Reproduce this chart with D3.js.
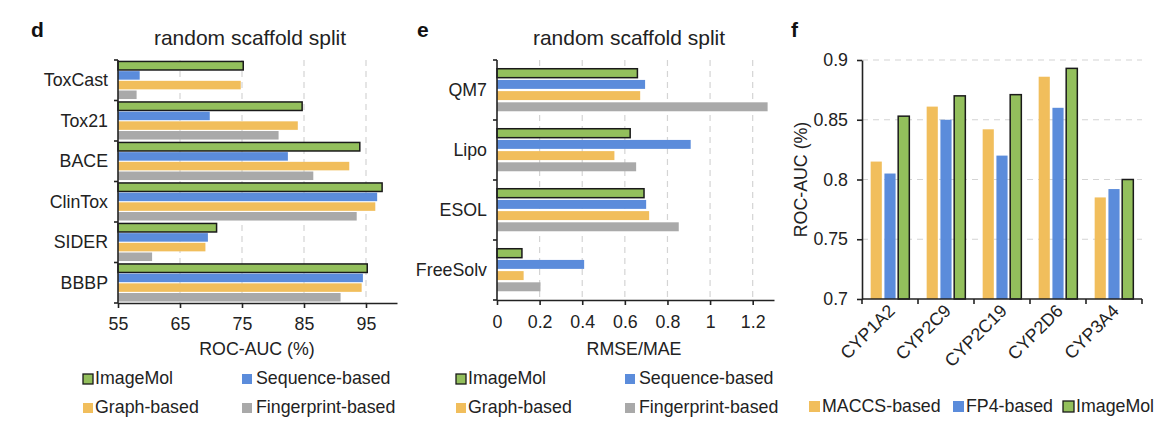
<!DOCTYPE html>
<html><head><meta charset="utf-8">
<script src="https://cdn.jsdelivr.net/npm/d3@7"></script>
<style>
html,body{margin:0;padding:0;background:#fff;}
svg{display:block;font-family:"Liberation Sans",Arial,sans-serif;}
</style></head>
<body>
<svg id="c" width="1176" height="428"></svg>
<script>
// ---------- data ----------
const seriesD = ["ImageMol", "Sequence-based", "Graph-based", "Fingerprint-based"];
const catsD = ["ToxCast", "Tox21", "BACE", "ClinTox", "SIDER", "BBBP"];
const imagemolD = [75.2, 84.7, 94.0, 97.6, 70.9, 95.2];
const sequenceD = [58.5, 69.8, 82.4, 96.8, 69.5, 94.5];
const graphD = [74.8, 84.0, 92.3, 96.5, 69.1, 94.3];
const fingerprintD = [58.0, 80.9, 86.5, 93.5, 60.5, 90.9];
const ticksD = [55, 65, 75, 85, 95];

const catsE = ["QM7", "Lipo", "ESOL", "FreeSolv"];
const imagemolE = [0.659, 0.625, 0.690, 0.117];
const sequenceE = [0.695, 0.909, 0.700, 0.409];
const graphE = [0.672, 0.551, 0.714, 0.125];
const fingerprintE = [1.270, 0.653, 0.853, 0.204];
const ticksE = [0, 0.2, 0.4, 0.6, 0.8, 1, 1.2];

const seriesF = ["MACCS-based", "FP4-based", "ImageMol"];
const catsF = ["CYP1A2", "CYP2C9", "CYP2C19", "CYP2D6", "CYP3A4"];
const maccsF = [0.815, 0.861, 0.842, 0.886, 0.785];
const fp4F = [0.805, 0.850, 0.820, 0.860, 0.792];
const imagemolF = [0.853, 0.870, 0.871, 0.893, 0.800];
const ticksF = [0.7, 0.75, 0.8, 0.85, 0.9];

// ---------- styles ----------
const COL = {"ImageMol": "#93BF5C", "Sequence-based": "#5B8CDB", "Graph-based": "#F1BE5C",
  "Fingerprint-based": "#A9A9A9", "MACCS-based": "#F1BE5C", "FP4-based": "#5B8CDB"};
const AX = "#222";
const GRID = "#d4d4d4";
const FS = 17.8;
const FF = "Liberation Sans, Arial, sans-serif";

const svg = d3.select("#c");

function hbarPanel(opt) {
  const g = svg.append("g");
  const x = d3.scaleLinear().domain(opt.domain).range([opt.x0, opt.x1]);
  const y = d3.scaleBand().domain(opt.cats).range([opt.y0, opt.y1]).padding(0);
  const yi = d3.scaleBand().domain(seriesD).range([0, y.bandwidth()])
    .paddingInner(opt.pi).paddingOuter(opt.po);
  // grid
  g.selectAll(".grid").data(opt.ticks.slice(1)).join("line")
    .attr("x1", d => x(d)).attr("x2", d => x(d))
    .attr("y1", opt.y0).attr("y2", opt.y1)
    .attr("stroke", GRID).attr("stroke-width", 1.2).attr("stroke-dasharray", "6,5");
  // bars
  const rows = [];
  opt.cats.forEach((c, i) => {
    opt.vals.forEach((arr, j) => rows.push({c, s: seriesD[j], v: arr[i]}));
  });
  g.selectAll(".bar").data(rows).join("rect")
    .attr("x", x(opt.domain[0]))
    .attr("y", d => y(d.c) + yi(d.s))
    .attr("width", d => x(d.v) - x(opt.domain[0]))
    .attr("height", yi.bandwidth())
    .attr("fill", d => COL[d.s])
    .attr("stroke", d => d.s === "ImageMol" ? "#1a1a1a" : "none")
    .attr("stroke-width", 1.5);
  // y axis
  const ya = g.append("g").attr("transform", `translate(${opt.x0},0)`);
  ya.append("line").attr("x1", 0).attr("x2", 0).attr("y1", opt.y0).attr("y2", opt.y1)
    .attr("stroke", AX).attr("stroke-width", 1.6);
  const bounds = opt.cats.map(c => y(c)).concat([opt.y1]);
  ya.selectAll(".tk").data(bounds).join("line")
    .attr("x1", -4).attr("x2", 0).attr("y1", d => d).attr("y2", d => d)
    .attr("stroke", AX).attr("stroke-width", 1.6);
  g.selectAll(".cl").data(opt.cats).join("text")
    .attr("x", opt.labelX).attr("y", d => y(d) + y.bandwidth() / 2)
    .attr("dy", "0.35em").attr("text-anchor", "end")
    .attr("font-size", FS).attr("fill", "#222").text(d => d);
  // x axis
  const xa = d3.axisBottom(x).tickValues(opt.ticks).tickSize(5).tickSizeOuter(0)
    .tickFormat(d => String(d));
  const xg = g.append("g").attr("transform", `translate(0,${opt.y1})`).call(xa);
  xg.select(".domain").attr("stroke", AX).attr("stroke-width", 1.6);
  xg.selectAll(".tick line").attr("stroke", AX).attr("stroke-width", 1.6);
  xg.selectAll(".tick text").attr("font-size", FS).attr("fill", "#222")
    .attr("font-family", FF).attr("dy", null).attr("y", opt.tickY);
  g.append("text").attr("x", opt.axTitleX).attr("y", opt.axTitleY)
    .attr("text-anchor", "middle").attr("font-size", FS).attr("fill", "#222").text(opt.axTitle);
  // title & panel letter
  g.append("text").attr("x", opt.titleX).attr("y", 45).attr("text-anchor", "middle")
    .attr("font-size", 21).attr("fill", "#222").text("random scaffold split");
  g.append("text").attr("x", opt.letterX).attr("y", 37).attr("font-size", 21)
    .attr("font-weight", "bold").attr("fill", "#111").text(opt.letter);
  // legend
  const lg = g.append("g");
  seriesD.forEach((s, i) => {
    const col = i % 2, row = Math.floor(i / 2);
    const lx = opt.legX[col], ly = [384, 413][row];
    lg.append("rect").attr("x", lx).attr("y", ly - 10).attr("width", 10).attr("height", 10)
      .attr("fill", COL[s]).attr("stroke", s === "ImageMol" ? "#1a1a1a" : "none").attr("stroke-width", 1.3);
    lg.append("text").attr("x", lx + (col === 0 ? 12 : 14)).attr("y", ly).attr("font-size", FS)
      .attr("fill", "#222").text(s);
  });
}

hbarPanel({
  cats: catsD, vals: [imagemolD, sequenceD, graphD, fingerprintD],
  domain: [55, 100], x0: 118, x1: 397, y0: 60, y1: 303, pi: 0.12, po: 0.15,
  ticks: ticksD, labelX: 108, tickY: 27, axTitle: "ROC-AUC (%)", axTitleX: 257, axTitleY: 355,
  titleX: 250, letter: "d", letterX: 31, legX: [83, 242]
});
hbarPanel({
  cats: catsE, vals: [imagemolE, sequenceE, graphE, fingerprintE],
  domain: [0, 1.3], x0: 497, x1: 774, y0: 60, y1: 300, pi: 0.2, po: 0.78,
  ticks: ticksE, labelX: 487, tickY: 28, axTitle: "RMSE/MAE", axTitleX: 634, axTitleY: 355,
  titleX: 629, letter: "e", letterX: 417, legX: [456, 625]
});

// ---------- panel f ----------
(function () {
  const g = svg.append("g");
  const x0 = 862, x1 = 1142, y0 = 60, y1 = 299;
  const x = d3.scaleBand().domain(catsF).range([x0, x1]).padding(0);
  const xi = d3.scaleBand().domain(seriesF).range([0, x.bandwidth()]).paddingInner(0.19).paddingOuter(0.63);
  const y = d3.scaleLinear().domain([0.7, 0.9]).range([y1, y0]);
  g.selectAll(".grid").data(ticksF.slice(1)).join("line")
    .attr("x1", x0).attr("x2", x1).attr("y1", d => y(d)).attr("y2", d => y(d))
    .attr("stroke", GRID).attr("stroke-width", 1.2).attr("stroke-dasharray", "6,5");
  const vals = [maccsF, fp4F, imagemolF];
  const rows = [];
  catsF.forEach((c, i) => vals.forEach((arr, j) => rows.push({c, s: seriesF[j], v: arr[i]})));
  g.selectAll(".bar").data(rows).join("rect")
    .attr("x", d => x(d.c) + xi(d.s)).attr("width", xi.bandwidth())
    .attr("y", d => y(d.v)).attr("height", d => y1 - y(d.v))
    .attr("fill", d => COL[d.s])
    .attr("stroke", d => d.s === "ImageMol" ? "#1a1a1a" : "none").attr("stroke-width", 1.5);
  // y axis
  const ya = d3.axisLeft(y).tickValues(ticksF).tickSize(5).tickSizeOuter(0).tickFormat(d => String(d));
  const yg = g.append("g").attr("transform", `translate(${x0},0)`).call(ya);
  yg.select(".domain").attr("stroke", AX).attr("stroke-width", 1.6);
  yg.selectAll(".tick line").attr("stroke", AX).attr("stroke-width", 1.6);
  yg.selectAll(".tick text").attr("font-size", FS).attr("fill", "#222")
    .attr("font-family", FF).attr("x", -14);
  // x axis
  g.append("line").attr("x1", x0).attr("x2", x1).attr("y1", y1).attr("y2", y1)
    .attr("stroke", AX).attr("stroke-width", 1.6);
  const bounds = catsF.map(c => x(c)).concat([x1]);
  g.selectAll(".tk").data(bounds).join("line")
    .attr("x1", d => d).attr("x2", d => d).attr("y1", y1).attr("y2", y1 + 5)
    .attr("stroke", AX).attr("stroke-width", 1.6);
  g.selectAll(".xl").data(catsF).join("text")
    .attr("transform", d => `translate(${x(d) + x.bandwidth() / 2 + 6},${y1 + 13}) rotate(-45)`)
    .attr("text-anchor", "end").attr("font-size", FS).attr("fill", "#222").text(d => d);
  g.append("text").attr("transform", `translate(807,${(y0 + y1) / 2}) rotate(-90)`)
    .attr("text-anchor", "middle").attr("font-size", FS).attr("fill", "#222").text("ROC-AUC (%)");
  g.append("text").attr("x", 791).attr("y", 37).attr("font-size", 21)
    .attr("font-weight", "bold").attr("fill", "#111").text("f");
  // legend
  const legX = [809, 953, 1063];
  seriesF.forEach((s, i) => {
    g.append("rect").attr("x", legX[i]).attr("y", 401).attr("width", 11).attr("height", 11)
      .attr("fill", COL[s]).attr("stroke", s === "ImageMol" ? "#1a1a1a" : "none").attr("stroke-width", 1.3);
    g.append("text").attr("x", legX[i] + 13).attr("y", 412).attr("font-size", FS)
      .attr("fill", "#222").text(s);
  });
})();
</script>
</body></html>
